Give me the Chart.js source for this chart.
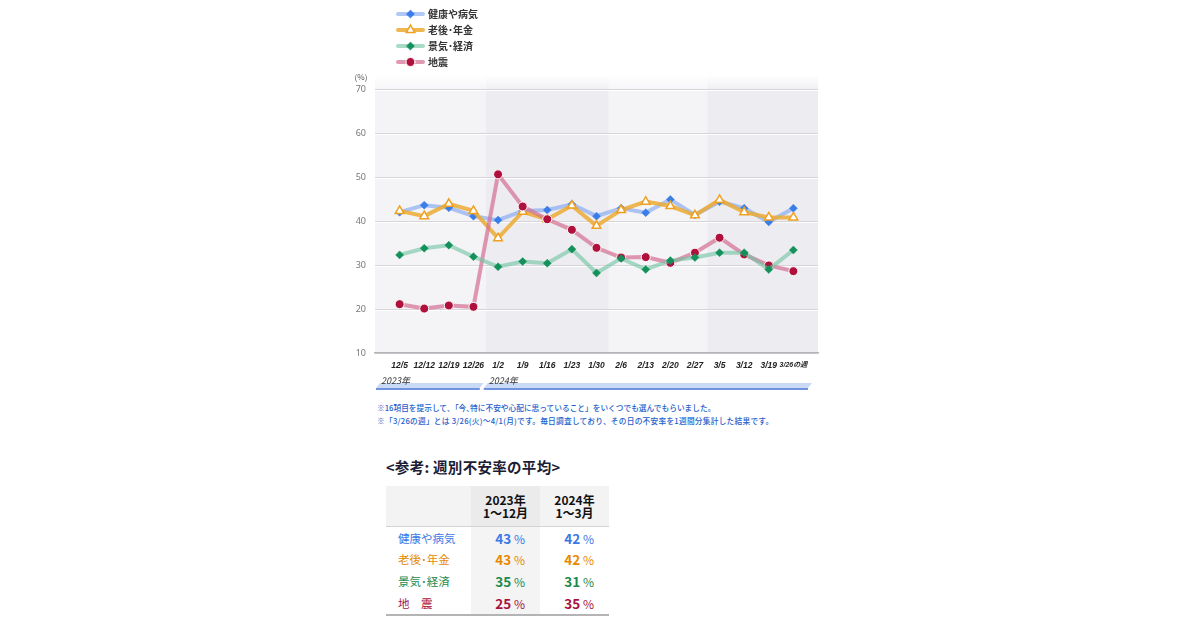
<!DOCTYPE html>
<html><head><meta charset="utf-8">
<script src="https://cdn.jsdelivr.net/npm/chart.js@4"></script>
<style>
body{margin:0;background:#fff;width:1200px;height:630px;position:relative;overflow:hidden;font-family:"Noto Sans CJK JP","Noto Sans",sans-serif;}
#wrap{position:absolute;left:340px;top:0;width:500px;height:400px;}
.note{position:absolute;left:377px;color:#2560cc;font-size:7.7px;font-weight:500;white-space:nowrap;line-height:1;}
#ttl{position:absolute;left:386px;top:456px;font-size:14.5px;font-weight:bold;color:#1c1c34;white-space:nowrap;letter-spacing:0.3px;}
#tbl{position:absolute;left:386px;top:486px;width:223px;border-collapse:collapse;table-layout:fixed;}
#tbl th{height:40px;background:#f3f3f4;font-size:12px;font-weight:bold;color:#111;line-height:13px;padding:0;border-bottom:1.5px solid #d4d4d4;}
#tbl th.c2{background:#ebebec;}
#tbl td{height:21.5px;padding:0;font-size:12px;white-space:nowrap;}
#tbl td.lab{padding-left:12px;font-size:11.5px;}
#tbl td.v{text-align:right;padding-right:15px;}
#tbl td.c2{background:#f4f4f5;}
#tbl td b{font-size:13.5px;}
#tbl tr:last-child td{border-bottom:2px solid #b4b4b4;height:22px;}
</style></head>
<body>
<div id="wrap"><canvas id="c" width="500" height="400"></canvas></div>
<div class="note" style="top:404px">※16項目を提示して､「今､特に不安や心配に思っていること」をいくつでも選んでもらいました｡</div>
<div class="note" style="top:417px;letter-spacing:0.25px">※「3/26の週」とは 3/26(火)～4/1(月)です。毎日調査しており、その日の不安率を1週間分集計した結果です。</div>
<div id="ttl">&lt;参考: 週別不安率の平均&gt;</div>
<table id="tbl"><colgroup><col style="width:85px"><col style="width:69px"><col style="width:69px"></colgroup>
<thead><tr><th></th><th class="c2" id="h1"></th><th id="h2"></th></tr></thead><tbody id="tb"></tbody></table>
<script>
const categories = ['12/5','12/12','12/19','12/26','1/2','1/9','1/16','1/23','1/30','2/6','2/13','2/20','2/27','3/5','3/12','3/19','3/26の週'];
const seriesNames = ['健康や病気','老後･年金','景気･経済','地震'];
const healthValues  = [42.0,43.6,43.0,41.1,40.2,42.3,42.5,43.8,41.1,42.9,41.9,44.9,41.4,44.4,42.9,39.8,42.9];
const pensionValues = [42.3,41.1,43.9,42.3,36.1,42.1,40.4,43.5,38.9,42.5,44.4,43.4,41.3,44.8,42.0,40.8,40.8];
const economyValues = [32.3,33.8,34.5,31.9,29.6,30.8,30.4,33.6,28.2,31.5,29.0,31.0,31.7,32.8,32.8,29.0,33.4];
const quakeValues   = [21.1,20.1,20.8,20.5,50.6,43.3,40.4,38.0,33.9,31.7,31.8,30.5,32.8,36.2,32.4,29.9,28.6];
const yTicks = [10,20,30,40,50,60,70];
const yearLabels = ['2023年','2024年'];
const tableHeaders = ['2023年<br>1～12月','2024年<br>1～3月'];
const tableRowNames = ['健康や病気','老後･年金','景気･経済','地　震'];
const avg2023 = [43,43,35,25];
const avg2024 = [42,42,31,35];

const textColors = ['#3b78e7','#e68a00','#1e8a4c','#a8123e'];

// table
document.getElementById('h1').innerHTML = tableHeaders[0];
document.getElementById('h2').innerHTML = tableHeaders[1];
const tb = document.getElementById('tb');
tableRowNames.forEach((n,i)=>{
  const tr = document.createElement('tr');
  tr.style.color = textColors[i];
  tr.innerHTML = `<td class="lab">${n}</td><td class="v c2"><b>${avg2023[i]}</b> %</td><td class="v"><b>${avg2024[i]}</b> %</td>`;
  tb.appendChild(tr);
});

const toPts = arr => arr.map((v,i)=>({x:i,y:v}));
const monthOf = c => parseInt(c.split('/')[0],10);

const styles = [
  {line:'rgba(110,155,240,0.55)', pointStyle:'rectRot', radius:4, fill:'#3a7de8', border:'#3a7de8', bw:0.5, order:4},
  {line:'rgba(236,170,50,0.85)', pointStyle:'triangle', radius:5, fill:'#ffffff', border:'#f0a020', bw:1.5, order:3},
  {line:'rgba(110,195,160,0.6)', pointStyle:'rectRot', radius:4, fill:'#14905a', border:'#14905a', bw:0.5, order:1},
  {line:'rgba(212,110,145,0.7)', pointStyle:'circle', radius:4.5, fill:'#b0103c', border:'#ffffff', bw:1, order:2},
];
const allValues = [healthValues,pensionValues,economyValues,quakeValues];

const bgPlugin = {
  id:'bg',
  beforeDraw(chart){
    const {ctx, chartArea:ca, scales:{x}} = chart;
    const top = ca.top - 14;
    const bounds = [x.min];
    for(let i=1;i<categories.length;i++){ if(monthOf(categories[i])!==monthOf(categories[i-1])) bounds.push(i-0.5); }
    bounds.push(x.max);
    ctx.save();
    for(let i=0;i<bounds.length-1;i++){
      const a=x.getPixelForValue(bounds[i]), b=x.getPixelForValue(bounds[i+1]);
      ctx.fillStyle = i%2===0 ? '#f4f4f7' : '#ededf1';
      ctx.fillRect(a, top, b-a, ca.bottom-top);
    }
    const g = ctx.createLinearGradient(0, top, 0, ca.top+3);
    g.addColorStop(0,'rgba(255,255,255,1)'); g.addColorStop(1,'rgba(255,255,255,0)');
    ctx.fillStyle = g; ctx.fillRect(ca.left, top, ca.right-ca.left, ca.top+3-top);
    ctx.restore();
  },
  beforeDatasetsDraw(chart){
    const {ctx, chartArea:ca, scales:{y}} = chart;
    ctx.save(); ctx.strokeStyle='rgba(255,255,255,0.95)'; ctx.lineWidth=1;
    yTicks.forEach(v=>{ if(v===y.min) return; const py=Math.round(y.getPixelForValue(v))+1.5; ctx.beginPath(); ctx.moveTo(ca.left,py); ctx.lineTo(ca.right,py); ctx.stroke(); });
    ctx.restore();
  },
  afterDraw(chart){
    const {ctx, chartArea:ca, scales:{x}} = chart;
    ctx.save();
    // (%)
    ctx.fillStyle='#555'; ctx.font='8px "Noto Sans CJK JP"'; ctx.textAlign='center'; ctx.textBaseline='middle';
    ctx.fillText('(%)', ca.left-14, 77);
    // legend
    seriesNames.forEach((n,i)=>{
      const s = styles[i]; const yy = 14 + i*16;
      ctx.strokeStyle = s.line; ctx.lineWidth = 4; ctx.lineCap='round';
      ctx.beginPath(); ctx.moveTo(58,yy); ctx.lineTo(83,yy); ctx.stroke();
      ctx.fillStyle = s.fill; ctx.strokeStyle = s.border; ctx.lineWidth = s.bw;
      Chart.helpers.drawPoint(ctx,{pointStyle:s.pointStyle, radius:s.radius, borderWidth:s.bw, rotation:0},70.5,yy);
      ctx.fillStyle='#333'; ctx.font='bold 10px "Noto Sans CJK JP"'; ctx.textAlign='left'; ctx.textBaseline='middle';
      ctx.fillText(n, 88, yy);
    });
    // year bars
    let split = 0;
    for(let i=1;i<categories.length;i++){ if(monthOf(categories[i])<monthOf(categories[i-1])) split = i-0.5; }
    const segs = [[ca.left+1, x.getPixelForValue(split)-6],[x.getPixelForValue(split)-2, ca.right-10]];
    segs.forEach((sg,i)=>{
      const [a,b]=sg; const yb=388, yt=383;
      ctx.fillStyle='#c9d9f6';
      ctx.beginPath(); ctx.moveTo(a,yb); ctx.lineTo(b,yb); ctx.lineTo(b+4,yt); ctx.lineTo(a+4,yt); ctx.closePath(); ctx.fill();
      ctx.fillStyle='#6f93dc'; ctx.fillRect(a, yb, b-a, 2);
      ctx.fillStyle='#333'; ctx.font='italic 9px "Noto Sans CJK JP"'; ctx.textAlign='left'; ctx.textBaseline='middle';
      ctx.fillText(yearLabels[i], a+5, 380.5);
    });
    ctx.restore();
  }
};

new Chart(document.getElementById('c'), {
  type:'line',
  data:{ datasets: allValues.map((vals,i)=>({
    label: seriesNames[i], data: toPts(vals), order: styles[i].order,
    borderColor: styles[i].line, borderWidth: 4, tension: 0,
    pointStyle: styles[i].pointStyle, pointRadius: styles[i].radius, pointHoverRadius: styles[i].radius,
    pointBackgroundColor: styles[i].fill, pointBorderColor: styles[i].border, pointBorderWidth: styles[i].bw,
  }))},
  options:{
    responsive:false, animation:false, devicePixelRatio:1,
    layout:{padding:{top:89,right:22,bottom:0,left:0}},
    plugins:{legend:{display:false}, tooltip:{enabled:false}},
    scales:{
      x:{type:'linear', min:-1, max:categories.length,
        afterBuildTicks:s=>{ s.ticks = categories.map((c,i)=>({value:i})); },
        afterFit:s=>{ s.height = 47; },
        ticks:{autoSkip:false, maxRotation:0, callback:v=>categories[v] ?? '', color:'#222',
          font:c=>({size: c.index===categories.length-1 ? 7 : 8.5, style:'italic', weight:'bold', family:'"Liberation Sans", "Noto Sans CJK JP"'}), padding:8},
        grid:{display:false, drawTicks:false}, border:{color:'#b4b4b8', width:1.5}
      },
      y:{min:10, max:70,
        afterBuildTicks:s=>{ s.ticks = yTicks.map(v=>({value:v})); },
        afterFit:s=>{ s.width = 35; },
        ticks:{color:'#777', font:{size:9, family:'"Noto Sans"'}, padding:9},
        grid:{color:'#d6d6da', drawTicks:false}, border:{display:false}
      }
    }
  },
  plugins:[bgPlugin]
});
</script>
</body></html>
